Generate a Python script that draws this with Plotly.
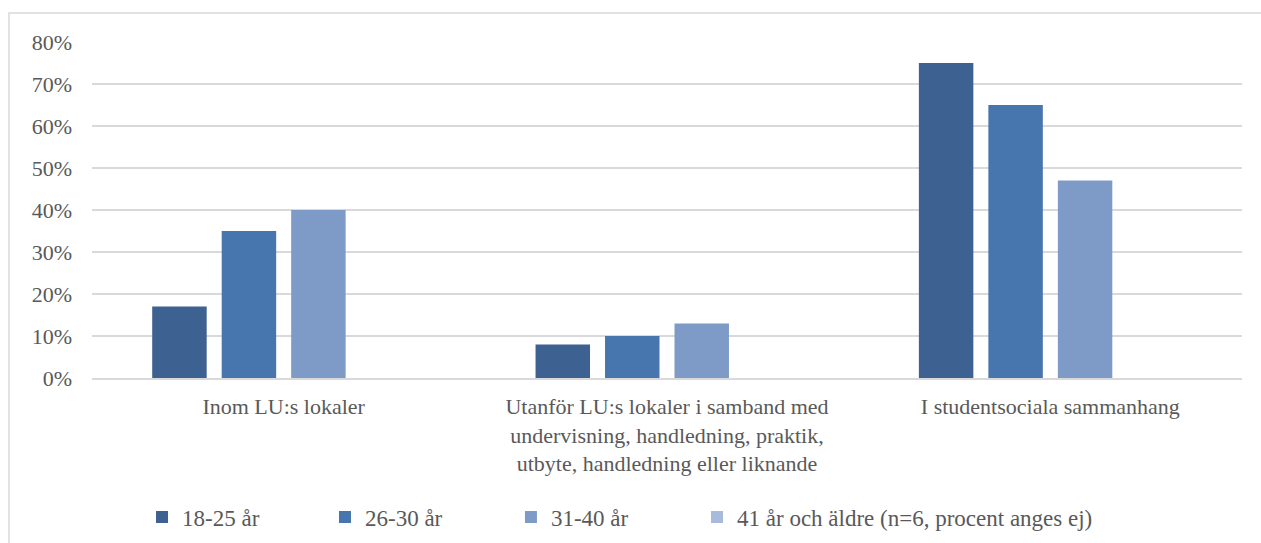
import plotly.graph_objects as go

categories = [
    "Inom LU:s lokaler",
    "Utanför LU:s lokaler i samband med<br>undervisning, handledning, praktik,<br>utbyte, handledning eller liknande",
    "I studentsociala sammanhang",
]
series_names = ["18-25 år", "26-30 år", "31-40 år", "41 år och äldre (n=6, procent anges ej)"]
vals_18_25 = [17, 8, 75]
vals_26_30 = [35, 10, 65]
vals_31_40 = [40, 13, 47]
vals_41_plus = [None, None, None]
colors = ["#3D6190", "#4776AE", "#7E9BC8", "#A9BBDB"]
legend_x = [0.0435, 0.2026, 0.3643, 0.5261]

values = [vals_18_25, vals_26_30, vals_31_40, vals_41_plus]
font_family = "Liberation Serif, Times New Roman, serif"
text_color = "#595959"

fig = go.Figure()
for i, (name, vals) in enumerate(zip(series_names, values)):
    fig.add_trace(go.Bar(
        x=categories, y=[v / 100 if v is not None else None for v in vals],
        name=name, marker=dict(color=colors[i], line=dict(width=0)),
        legend="legend" if i == 0 else f"legend{i + 1}",
    ))

# one legend per series so each entry sits at its own position
legend_common = dict(orientation="h", yanchor="middle", y=-0.414, xanchor="left",
                     font=dict(family=font_family, size=23, color=text_color),
                     bgcolor="rgba(0,0,0,0)", itemwidth=30)
fig.update_layout(
    legend=dict(x=legend_x[0], **legend_common),
    legend2=dict(x=legend_x[1], **legend_common),
    legend3=dict(x=legend_x[2], **legend_common),
    legend4=dict(x=legend_x[3], **legend_common),
)

fig.update_layout(
    width=1261, height=543,
    margin=dict(l=92, r=19, t=42, b=165, autoexpand=False),
    paper_bgcolor="white", plot_bgcolor="white",
    barmode="group", bargap=0.275, bargroupgap=0.216,
    font=dict(family=font_family, size=22, color=text_color),
    showlegend=True,
)
fig.update_yaxes(range=[0, 0.8], tickvals=[i / 10 for i in range(9)], tickformat=".0%",
                 showgrid=True, gridcolor="#D9D9D9", gridwidth=1.5, zeroline=False,
                 showline=False, ticks="", ticklabelstandoff=19, automargin=False,
                 tickfont=dict(family=font_family, size=22, color=text_color))
fig.update_xaxes(showline=True, linecolor="#D9D9D9", linewidth=1.5, ticks="",
                 ticklabelstandoff=8, automargin=False,
                 tickfont=dict(family=font_family, size=22, color=text_color))

# outer chart frame
fig.add_shape(type="rect", xref="paper", yref="paper",
              x0=-83 / 1150, x1=1.2, y0=-0.6, y1=1 + 29 / 336,
              line=dict(color="#D9D9D9", width=1.5), fillcolor="rgba(0,0,0,0)", layer="below")

fig.write_html("out.html")
